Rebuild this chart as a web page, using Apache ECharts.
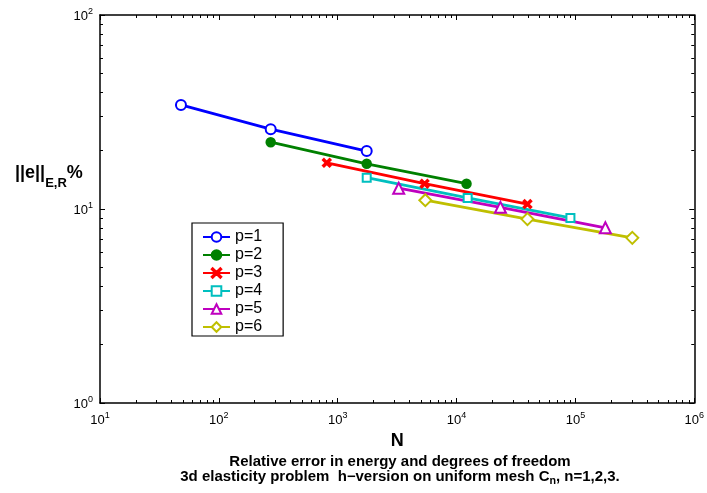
<!DOCTYPE html>
<html>
<head>
<meta charset="utf-8">
<script src="https://cdn.jsdelivr.net/npm/echarts@6/dist/echarts.min.js"></script>
<style>
  html, body { margin: 0; padding: 0; background: #fff; }
  #chart { width: 707px; height: 493px; }
</style>
</head>
<body>
<div id="chart"></div>
<script>
// Degrees of freedom N and relative energy-norm error (%) for each polynomial degree p
const seriesNames = ['p=1', 'p=2', 'p=3', 'p=4', 'p=5', 'p=6'];
const dofP1 = [48, 273, 1754];
const errP1 = [34.4, 25.8, 19.9];
const dofP2 = [273, 1754, 12130];
const errP2 = [22.1, 17.1, 13.5];
const dofP3 = [809, 5380, 39500];
const errP3 = [17.3, 13.5, 10.6];
const dofP4 = [1754, 12400, 90800];
const errP4 = [14.5, 11.4, 9.0];
const dofP5 = [3260, 23400, 178600];
const errP5 = [12.8, 10.2, 8.0];
const dofP6 = [5460, 39500, 301000];
const errP6 = [11.1, 8.87, 7.1];

// Axis tick values
const xMajorTicks = [10, 100, 1000, 10000, 100000, 1000000];
const yMajorTicks = [1, 10, 100];
const xMinorTicks = [];
xMajorTicks.slice(0, -1).forEach(d => { for (let k = 2; k <= 9; k++) xMinorTicks.push(d * k); });
const yMinorTicks = [];
yMajorTicks.slice(0, -1).forEach(d => { for (let k = 2; k <= 9; k++) yMinorTicks.push(d * k); });

const dofs = [dofP1, dofP2, dofP3, dofP4, dofP5, dofP6];
const errs = [errP1, errP2, errP3, errP4, errP5, errP6];
const colors = ['#0000ff', '#008000', '#ff0000', '#00bfbf', '#bf00bf', '#bfbf00'];

const symbols = [
  { symbol: 'emptyCircle', symbolSize: 10 },
  { symbol: 'circle', symbolSize: 8 },
  { symbol: 'path://M1,0 L5,4 L9,0 L10,1 L6,5 L10,9 L9,10 L5,6 L1,10 L0,9 L4,5 L0,1 Z', symbolSize: 7 },
  { symbol: 'emptyRect', symbolSize: 8 },
  { symbol: 'emptyTriangle', symbolSize: 11 },
  { symbol: 'emptyDiamond', symbolSize: 12 }
];

const FONT = '"Liberation Sans", Arial, sans-serif';

function powLabel(v) {
  const e = Math.round(Math.log10(v));
  return '{b|10}{s|' + e + '}';
}
const powRich = {
  b: { fontSize: 13, fontFamily: FONT, color: '#000', lineHeight: 16, verticalAlign: 'bottom' },
  s: { fontSize: 9, fontFamily: FONT, color: '#000', lineHeight: 16, verticalAlign: 'top', padding: [0, 0, 6, 0] }
};

const axisLineStyle = { show: true, lineStyle: { color: '#000', width: 1.5 } };

function xAxisDef(position, ticks, len, labels, line) {
  return {
    type: 'log', logBase: 10, min: 10, max: 1000000, position: position,
    gridIndex: 0,
    axisLine: line ? axisLineStyle : { show: false },
    axisTick: { show: true, inside: true, length: len, customValues: ticks, lineStyle: { color: '#000', width: 1 } },
    axisLabel: labels ? { show: true, customValues: xMajorTicks, formatter: powLabel, rich: powRich, margin: 8 } : { show: false },
    splitLine: { show: false }, minorTick: { show: false }
  };
}
function yAxisDef(position, ticks, len, labels, line) {
  return {
    type: 'log', logBase: 10, min: 1, max: 100, position: position,
    gridIndex: 0,
    axisLine: line ? axisLineStyle : { show: false },
    axisTick: { show: true, inside: true, length: len, customValues: ticks, lineStyle: { color: '#000', width: 1 } },
    axisLabel: labels ? { show: true, customValues: yMajorTicks, formatter: powLabel, rich: powRich, margin: 7 } : { show: false },
    splitLine: { show: false }, minorTick: { show: false }
  };
}

const chart = echarts.init(document.getElementById('chart'), null, { renderer: 'canvas' });

const series = seriesNames.map((name, i) => ({
  name: name,
  type: 'line',
  xAxisIndex: 0, yAxisIndex: 0,
  data: dofs[i].map((n, j) => [n, errs[i][j]]),
  symbol: symbols[i].symbol,
  symbolSize: symbols[i].symbolSize,
  showAllSymbol: true,
  color: colors[i],
  lineStyle: { color: colors[i], width: 2.8 },
  itemStyle: { color: colors[i], borderColor: colors[i], borderWidth: 2.5 },
  emphasis: { disabled: true },
  animation: false,
  z: 3
}));

const xNameAxis = xAxisDef('bottom', xMajorTicks, 5, true, true);
xNameAxis.name = 'N';
xNameAxis.nameLocation = 'middle';
xNameAxis.nameGap = 19;
xNameAxis.nameTextStyle = { fontSize: 18, fontWeight: 'bold', fontFamily: FONT, color: '#000' };

chart.setOption({
  backgroundColor: '#fff',
  animation: false,
  grid: { left: 100, top: 15, right: 12, bottom: 90, containLabel: false },
  xAxis: [
    xNameAxis,
    xAxisDef('bottom', xMinorTicks, 3, false, false),
    xAxisDef('top', xMajorTicks, 5, false, true),
    xAxisDef('top', xMinorTicks, 3, false, false)
  ],
  yAxis: [
    yAxisDef('left', yMajorTicks, 5, true, true),
    yAxisDef('left', yMinorTicks, 3, false, false),
    yAxisDef('right', yMajorTicks, 5, false, true),
    yAxisDef('right', yMinorTicks, 3, false, false)
  ],
  legend: {
    data: seriesNames,
    orient: 'vertical',
    left: 192, top: 223,
    padding: [6, 21, 1, 10],
    itemWidth: 27, itemHeight: 12, itemGap: 2,
    backgroundColor: '#fff',
    borderColor: '#000', borderWidth: 1.2, borderRadius: 0,
    textStyle: { fontSize: 16, lineHeight: 12, fontFamily: FONT, color: '#000', padding: [0, 0, 0, 0] },
    selectedMode: false,
    z: 10
  },
  graphic: [
    {
      type: 'text', left: 15, top: 164, z: 10,
      style: {
        text: '{m|||e||}{sub|E,R}{m|%}',
        rich: {
          m: { fontSize: 18, fontWeight: 'bold', fontFamily: FONT, fill: '#000', lineHeight: 26, verticalAlign: 'top' },
          sub: { fontSize: 13, fontWeight: 'bold', fontFamily: FONT, fill: '#000', lineHeight: 26, verticalAlign: 'bottom' }
        }
      }
    },
    {
      type: 'text', x: 400, y: 455, scaleX: 1.07, z: 10,
      style: {
        text: 'Relative error in energy and degrees of freedom',
        font: 'bold 14px ' + FONT, fill: '#000', align: 'center', verticalAlign: 'top'
      }
    },
    {
      type: 'text', x: 400, y: 470, scaleX: 1.07, z: 10,
      style: {
        text: '{t|3d elasticity problem  h\u2212version on uniform mesh C}{u|n}{t|, n=1,2,3.}',
        align: 'center', verticalAlign: 'top',
        rich: {
          t: { font: 'bold 14px ' + FONT, fill: '#000', lineHeight: 16, verticalAlign: 'top' },
          u: { font: 'bold 10px ' + FONT, fill: '#000', lineHeight: 16, verticalAlign: 'bottom', padding: [0, 0, 0, 0] }
        }
      }
    }
  ],
  series: series
});
</script>
</body>
</html>
